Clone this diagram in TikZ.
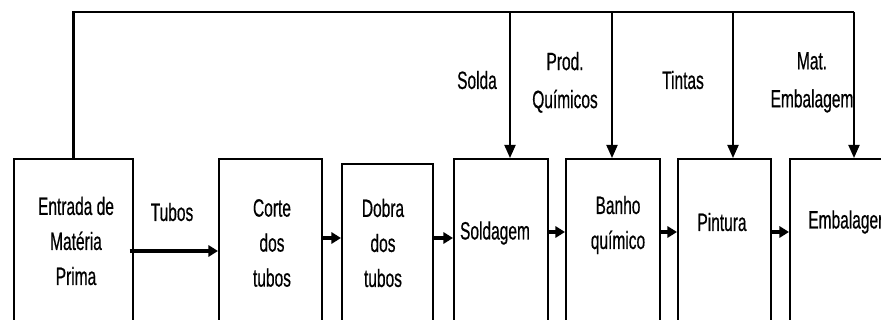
\documentclass[tikz,border=0pt]{standalone}
\usepackage{fontspec}
\setmainfont[FakeStretch=0.62, FakeBold=0.5]{Liberation Sans}
\usetikzlibrary{arrows.meta}

\begin{document}
\begin{tikzpicture}[>={Triangle[length=0.24cm,width=0.28cm]}]
            \tikzset{
                etapa/.style={draw, line width=1.2pt, minimum width=#1, minimum height=6cm, anchor=north west, inner sep=0pt},
                txt/.style={align=center, font=\fontsize{17.8}{24.9}\selectfont, inner sep=0pt},
                rot/.style={align=center, font=\fontsize{17.8}{27}\selectfont, inner sep=0pt},
                seta/.style={->, line width=2.6pt},
                feed/.style={-{Triangle[length=0.33cm,width=0.28cm]}, line width=1.3pt}
            }
            \useasboundingbox (0,0) rectangle (22.025,8);
            \clip (0,0) rectangle (22.025,8);

            % etapas do processo
            \node[etapa=2.975cm] (entrada) at (0.325,4.05) {};
            \node[etapa=2.575cm] (corte) at (5.45,4.05) {};
            \node[etapa=2.275cm] (dobra) at (8.525,3.925) {};
            \node[etapa=2.35cm] (sold) at (11.325,4.05) {};
            \node[etapa=2.35cm] (banho) at (14.125,4.05) {};
            \node[etapa=2.325cm] (pint) at (16.925,4.05) {};
            \node[etapa=2.4cm] (emb) at (19.725,4.05) {};

            \node[txt] (entradaT) at (1.9,1.975) {Entrada de\\Matéria\\Prima};
            \node[txt] (corteT) at (6.8,1.925) {Corte\\dos\\tubos};
            \node[txt] (dobraT) at (9.575,1.925) {Dobra\\dos\\tubos};
            \node[txt] (soldT) at (12.375,2.175) {Soldagem};
            \node[txt] (banhoT) at (15.45,2.375) {Banho\\químico};
            \node[txt] (pintT) at (18.05,2.45) {Pintura};
            \node[txt, anchor=west] (embT) at (20.2,2.45) {Embalagem};

            % linha de abastecimento
            \coordinate (bS) at (12.75,7.7);
            \coordinate (bQ) at (15.3,7.7);
            \coordinate (bT) at (18.325,7.7);
            \coordinate (bE) at (21.35,7.7);
            \draw[line width=1.7pt] (entrada.north) |- (bE);

            \draw[feed] (bS) -- (bS |- sold.north);
            \draw[feed] (bQ) -- (bQ |- banho.north);
            \draw[feed] (bT) -- (bT |- pint.north);
            \draw[feed] (bE) -- (bE |- emb.north);

            \node[rot] (solda) at (11.925,6.0) {Solda};
            \node[rot] (quim) at (14.125,5.94) {Prod.\\Químicos};
            \node[rot] (tintas) at (17.075,6.0) {Tintas};
            \node[rot] (mat) at (20.3,5.94) {Mat.\\Embalagem};

            % fluxo principal
            \draw[->, line width=2.4pt] ([xshift=-0.1cm]entrada.east |- 0,1.725) -- (corte.west |- 0,1.725);
            \node[rot] (tubos) at (4.3,2.7) {Tubos};
            \draw[seta] (corte.east |- 0,2.05) -- (dobra.west |- 0,2.05);
            \draw[seta] (dobra.east |- 0,2.05) -- (sold.west |- 0,2.05);
            \draw[seta] (sold.east |- 0,2.2) -- (banho.west |- 0,2.2);
            \draw[seta] (banho.east |- 0,2.2) -- (pint.west |- 0,2.2);
            \draw[seta] (pint.east |- 0,2.2) -- (emb.west |- 0,2.2);
        \end{tikzpicture}
\end{document}
